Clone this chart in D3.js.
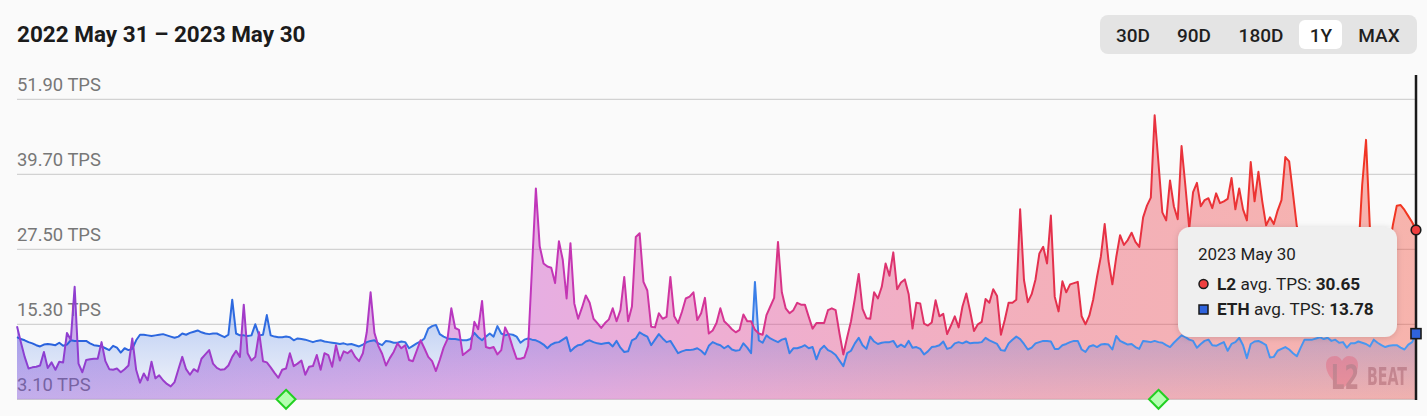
<!DOCTYPE html>
<html>
<head>
<meta charset="utf-8">
<script src="https://cdn.jsdelivr.net/npm/d3@7"></script>
<style>
  html, body { margin: 0; padding: 0; background: #fafafa; }
  svg { display: block; font-family: Roboto, "Noto Sans", sans-serif; }
</style>
</head>
<body>
<script>
// daily values, 2022 May 31 .. 2023 May 30
var startDay = new Date(2022, 4, 31);
var l2Tps = [
  15.0,12.4,10.0,8.1,8.3,8.4,8.6,10.8,8.2,9.1,
  7.9,9.2,9.1,13.9,12.8,21.4,8.9,7.5,9.5,9.6,
  9.7,9.7,12.4,9.3,8.0,7.9,8.1,7.5,8.0,8.6,
  13.0,7.9,5.8,7.3,6.2,9.2,6.5,7.0,6.2,5.6,
  5.2,5.9,8.0,10.0,8.0,7.1,8.0,7.6,9.7,10.4,
  11.1,8.9,8.2,7.9,8.0,8.6,10.0,11.0,10.0,18.5,
  10.6,9.4,10.0,14.0,9.3,9.1,8.3,7.4,6.6,7.9,
  8.1,10.6,8.5,8.9,
  9.4,7.1,8.4,8.5,10.3,7.9,10.6,10.3,8.4,11.9,
  9.4,10.9,10.6,11.1,10.0,9.3,10.6,14.0,20.5,13.9,
  11.8,10.5,8.6,9.8,10.8,12.2,11.4,11.9,9.5,9.3,
  11.0,12.7,11.4,10.0,9.3,7.7,9.5,11.5,12.9,17.9,
  14.7,14.4,10.3,10.8,11.3,15.7,14.5,19.1,11.6,11.4,
  11.6,10.4,11.1,14.8,13.5,11.5,9.7,9.7,9.9,11.8,
  24.5,37.4,28.0,25.2,24.7,24.5,22.0,28.8,25.8,19.5,
  28.5,18.7,16.2,
  18.0,20.0,18.8,16.2,15.5,14.7,15.5,16.1,17.9,15.8,
  17.6,23.0,15.8,18.2,29.5,30.1,22.2,20.8,14.9,14.8,
  17.1,16.2,16.5,23.0,16.6,15.5,17.3,19.5,19.8,20.5,
  16.0,17.1,19.6,13.8,14.3,15.5,17.9,15.8,15.2,14.5,
  14.0,14.4,16.9,15.8,15.8,14.4,13.8,13.6,16.8,18.2,
  19.6,28.7,20.5,17.9,17.1,17.6,18.8,18.5,18.5,16.5,
  14.6,15.5,15.5,15.5,17.6,17.9,17.6,13.8,10.4,13.2,
  15.8,19.5,23.5,
  17.8,16.3,16.2,20.5,19.5,21.4,25.2,23.2,27.0,21.0,
  22.1,22.6,20.2,14.6,18.8,18.7,15.4,15.1,15.6,19.2,
  16.6,17.0,13.7,15.1,16.6,14.8,18.2,20.3,17.4,14.2,
  15.3,15.7,19.4,18.8,21.0,19.9,13.6,16.0,18.8,18.8,
  19.3,34.0,22.5,18.9,20.2,22.6,26.8,27.9,25.2,33.0,
  19.8,17.4,22.3,20.5,21.8,22.0,22.2,16.6,15.3,16.7,
  19.3,23.0,26.3,31.6,25.6,21.8,26.2,29.8,28.2,29.0,
  30.2,28.7,27.9,
  32.7,34.6,35.9,49.3,41.5,33.5,32.2,38.7,34.5,32.4,
  44.3,37.8,30.9,36.8,38.3,34.5,35.5,35.8,34.2,36.6,
  35.0,35.3,35.7,39.1,34.0,37.4,34.0,32.2,41.7,35.3,
  40.1,35.3,31.4,32.7,31.6,33.8,35.5,42.5,41.8,36.5,
  31.2,28.0,26.5,27.0,25.5,28.0,27.0,26.0,29.0,27.5,
  26.0,25.5,27.0,28.0,26.5,28.0,27.0,38.0,45.3,31.0,
  28.0,27.0,29.0,28.0,27.5,31.5,34.6,34.7,33.9,32.9,
  31.9,30.65
];
var ethTps = [
  13.2,12.9,12.7,12.4,12.2,11.9,11.7,12.0,12.1,12.0,
  11.9,12.3,11.8,12.0,12.7,12.6,12.6,12.6,12.6,12.2,
  11.9,11.8,11.7,11.4,11.1,11.8,11.5,10.7,11.4,11.1,
  11.3,12.7,13.6,13.6,13.5,13.4,13.5,13.6,13.7,13.5,
  13.3,13.1,13.3,13.8,13.6,13.9,14.1,14.3,14.0,13.8,
  13.7,13.8,13.8,13.5,13.2,13.6,19.3,13.8,13.5,13.5,
  13.4,13.5,15.3,13.5,13.6,16.8,13.5,13.3,13.2,13.2,
  13.3,13.2,12.7,13.0,
  12.9,12.8,12.6,12.4,12.6,12.7,12.5,12.4,12.3,12.2,
  12.1,12.2,12.0,12.1,11.9,11.7,12.0,12.4,12.6,12.7,
  12.2,11.9,12.6,12.5,12.3,12.3,12.5,12.4,11.4,11.8,
  12.2,12.5,13.0,14.6,15.0,15.2,13.7,13.3,13.0,12.9,
  12.9,12.8,12.7,12.7,12.9,13.9,13.2,12.7,13.3,13.8,
  13.3,15.0,13.8,13.5,13.7,13.6,13.3,12.3,12.8,13.0,
  12.8,12.7,12.4,12.0,11.4,12.0,12.3,12.4,12.8,13.2,
  10.9,11.5,11.9,
  12.0,12.5,12.7,12.4,12.2,12.1,12.2,12.3,11.7,12.6,
  11.5,10.8,10.9,12.7,13.0,14.0,13.6,13.3,11.9,12.8,
  13.7,13.0,12.4,12.6,11.6,10.6,10.9,11.1,11.1,11.2,
  11.4,11.0,10.4,11.8,12.4,12.1,11.9,11.4,11.8,11.2,
  11.0,11.1,12.2,11.5,10.6,22.2,12.7,12.3,13.5,13.0,
  12.7,12.4,12.8,13.0,10.6,11.4,11.4,11.6,11.9,11.4,
  11.6,9.6,11.2,11.8,11.1,10.8,10.3,9.4,8.5,10.6,
  11.0,12.2,13.1,
  11.9,11.3,13.3,12.5,12.1,12.3,12.4,12.4,12.6,11.6,
  12.0,11.6,12.6,11.5,11.6,11.3,10.4,10.9,11.6,11.7,
  11.9,12.5,11.3,11.5,12.2,12.4,12.2,12.5,12.2,12.3,
  12.3,12.4,13.1,12.7,12.4,12.1,11.1,11.0,12.2,12.8,
  13.3,12.9,12.1,11.2,11.5,12.2,12.4,12.6,12.6,12.5,
  11.3,11.3,11.9,12.1,12.4,12.6,12.6,11.2,10.8,11.7,
  11.9,11.6,12.0,12.1,12.0,11.2,13.4,12.6,12.3,12.0,
  12.1,11.6,11.3,
  12.6,12.5,12.4,12.6,12.4,12.3,11.9,11.6,12.3,12.9,
  13.5,13.2,12.8,12.6,11.5,12.1,12.6,12.8,11.9,11.8,
  12.1,12.4,11.0,12.1,12.4,13.1,11.9,9.8,12.1,12.5,
  12.6,12.3,11.9,9.9,10.0,11.0,11.3,11.6,11.2,10.6,
  10.1,11.5,12.8,12.8,12.8,13.0,13.2,12.9,13.1,12.6,
  12.8,12.3,12.4,11.5,12.2,12.2,12.5,12.3,12.1,11.7,
  12.8,12.3,11.9,11.6,11.8,11.9,11.9,11.5,11.2,12.0,
  12.4,13.78
];
var yTicks = [3.10, 15.30, 27.50, 39.70, 51.90];
var ranges = ['30D','90D','180D','1Y','MAX'];
var milestoneDays = [new Date(2022, 7, 9), new Date(2023, 2, 24)];

var days = l2Tps.map(function(d, i){ return d3.timeDay.offset(startDay, i); });
var data = days.map(function(d, i){ return {day: d, l2: l2Tps[i], eth: ethTps[i]}; });

var W = 1427, H = 416;
var svg = d3.select('body').append('svg').attr('width', W).attr('height', H);
var defs = svg.append('defs');

var x = d3.scaleTime().domain(d3.extent(days)).range([17, 1416]);
var y = d3.scaleLinear().domain([3.10, 51.90]).range([399.3, 99.3]);

// gradients
function hGrad(id, stops){
  var g = defs.append('linearGradient').attr('id', id)
    .attr('gradientUnits','userSpaceOnUse').attr('x1',17).attr('x2',1416).attr('y1',0).attr('y2',0);
  stops.forEach(function(s){ g.append('stop').attr('offset', s[0]).attr('stop-color', s[1]); });
}
hGrad('l2line', [[0,'#8a3fd2'],[0.36,'#bf36bd'],[0.5,'#d53596'],[0.72,'#e3304f'],[1,'#f2361f']]);
hGrad('l2fill', [[0,'#7f42d6'],[0.36,'#c83cc0'],[0.5,'#dc3c98'],[0.72,'#e8405e'],[1,'#f24a38']]);
hGrad('ethline', [[0,'#2860dc'],[1,'#4b9bf3']]);
var eg = defs.append('linearGradient').attr('id','ethfill')
  .attr('gradientUnits','userSpaceOnUse').attr('x1',0).attr('x2',0).attr('y1',300).attr('y2',400);
eg.append('stop').attr('offset',0).attr('stop-color','#3a70e6').attr('stop-opacity',0.36);
eg.append('stop').attr('offset',1).attr('stop-color','#3a70e6').attr('stop-opacity',0.03);
defs.append('filter').attr('id','shadow').attr('x','-20%').attr('y','-20%').attr('width','140%').attr('height','150%')
  .append('feDropShadow').attr('dx',0).attr('dy',1).attr('stdDeviation',3).attr('flood-opacity',0.14);

// title
svg.append('text').attr('x',17).attr('y',42).attr('font-size',22.5).attr('font-weight',700)
  .attr('fill','#1b1b1b').text('2022 May 31 \u2013 2023 May 30');

// range buttons
var btn = svg.append('g');
btn.append('rect').attr('x',1100).attr('y',15).attr('width',317).attr('height',39).attr('rx',8).attr('fill','#e4e4e4');
var btnX = [1133, 1194, 1261, 1321, 1379];
btn.append('rect').attr('x',1299).attr('y',20).attr('width',43).attr('height',29).attr('rx',6).attr('fill','#ffffff');
btn.selectAll('text.r').data(ranges).enter().append('text')
  .attr('x', function(d,i){ return btnX[i]; }).attr('y',41.5)
  .attr('text-anchor','middle').attr('font-size',19).attr('font-weight',500).attr('fill','#1f1f1f')
  .text(function(d){ return d; });

// y labels + grid
svg.selectAll('text.yl').data(yTicks).enter().append('text')
  .attr('x',17).attr('y', function(d){ return y(d) - 8.3; })
  .attr('font-size',18.4).attr('fill','#777')
  .text(function(d){ return d.toFixed(2) + ' TPS'; });
svg.selectAll('line.grid').data(yTicks).enter().append('line')
  .attr('x1',17).attr('x2',1416).attr('y1', function(d){ return y(d); }).attr('y2', function(d){ return y(d); })
  .attr('stroke','#d2d2d2').attr('stroke-width',1.2);

// areas
var l2Area = d3.area().x(function(d){ return x(d.day); }).y0(y(3.10)).y1(function(d){ return y(d.l2); });
var ethArea = d3.area().x(function(d){ return x(d.day); }).y0(y(3.10)).y1(function(d){ return y(d.eth); });
svg.append('path').datum(data).attr('d', l2Area).attr('fill','url(#l2fill)').attr('fill-opacity',0.4);
svg.append('path').datum(data).attr('d', ethArea).attr('fill','url(#ethfill)');

// L2BEAT watermark
var logo = svg.append('g').attr('opacity',0.33);
logo.append('path')
  .attr('d','M1342,389 C1330,379 1326,372 1326,365 C1326,359 1330,356 1335,356 C1338,356 1341,358 1342,361 C1343,358 1346,356 1349,356 C1354,356 1358,359 1358,365 C1358,372 1354,379 1342,389 Z')
  .attr('fill','#e8506a');
logo.append('text').attr('x',1331).attr('y',389).attr('font-size',34).attr('font-weight',700)
  .attr('font-family','"DejaVu Sans Condensed", sans-serif')
  .attr('textLength',28).attr('lengthAdjust','spacingAndGlyphs').attr('fill','#8a3a48').text('L2');
logo.append('text').attr('x',1367).attr('y',385).attr('font-size',24).attr('font-weight',700)
  .attr('font-family','"DejaVu Sans Condensed", sans-serif')
  .attr('textLength',40).attr('lengthAdjust','spacingAndGlyphs').attr('fill','#8a3a48').text('BEAT');

// lines
var ethLine = d3.line().x(function(d){ return x(d.day); }).y(function(d){ return y(d.eth); });
var l2Line = d3.line().x(function(d){ return x(d.day); }).y(function(d){ return y(d.l2); });
svg.append('path').datum(data).attr('d', ethLine).attr('fill','none')
  .attr('stroke','url(#ethline)').attr('stroke-width',2).attr('stroke-linejoin','round');
svg.append('path').datum(data).attr('d', l2Line).attr('fill','none')
  .attr('stroke','url(#l2line)').attr('stroke-width',2).attr('stroke-linejoin','round');

// milestones
svg.selectAll('path.ms').data(milestoneDays).enter().append('path')
  .attr('transform', function(d){ return 'translate(' + x(d) + ',' + y(3.10) + ')'; })
  .attr('d','M0,-9.5 L9.5,0 L0,9.5 L-9.5,0 Z')
  .attr('fill','#b4ffb0').attr('stroke','#22d022').attr('stroke-width',2);

// hover marker on last day
var last = data[data.length - 1];
svg.append('line').attr('x1', x(last.day)).attr('x2', x(last.day)).attr('y1',75).attr('y2',400)
  .attr('stroke','#1a1a1a').attr('stroke-width',2.5);
svg.append('circle').attr('cx', x(last.day)).attr('cy', y(last.l2)).attr('r',4.8)
  .attr('fill','#ef3e3e').attr('stroke','#1a1a1a').attr('stroke-width',1.6);
svg.append('rect').attr('x', x(last.day) - 5).attr('y', y(last.eth) - 5).attr('width',10).attr('height',10)
  .attr('fill','#2f63dc').attr('stroke','#1a1a1a').attr('stroke-width',1.6);

// tooltip
var tip = svg.append('g');
tip.append('rect').attr('x',1178).attr('y',227).attr('width',219).attr('height',110).attr('rx',12)
  .attr('fill','#efefef').attr('filter','url(#shadow)');
tip.append('text').attr('x',1198).attr('y',259.5).attr('font-size',17).attr('fill','#1f1f1f')
  .text(d3.timeFormat('%Y %b %-d')(last.day));
tip.append('circle').attr('cx',1203.5).attr('cy',284).attr('r',4.5)
  .attr('fill','#ef3e3e').attr('stroke','#1a1a1a').attr('stroke-width',1.5);
tip.append('rect').attr('x',1199).attr('y',305).attr('width',9).attr('height',9)
  .attr('fill','#2f63dc').attr('stroke','#1a1a1a').attr('stroke-width',1.5);
var t1 = tip.append('text').attr('x',1217).attr('y',289.5).attr('font-size',17.2).attr('fill','#1f1f1f');
t1.append('tspan').attr('font-weight',700).text('L2');
t1.append('tspan').text(' avg. TPS: ');
t1.append('tspan').attr('font-weight',700).text(last.l2.toFixed(2));
var t2 = tip.append('text').attr('x',1217).attr('y',314.5).attr('font-size',17.2).attr('fill','#1f1f1f');
t2.append('tspan').attr('font-weight',700).text('ETH');
t2.append('tspan').text(' avg. TPS: ');
t2.append('tspan').attr('font-weight',700).text(last.eth.toFixed(2));
</script>
</body>
</html>
